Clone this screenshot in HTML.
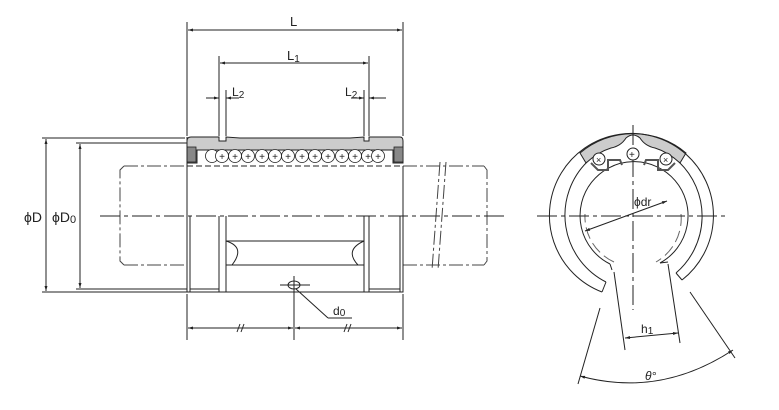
<!DOCTYPE html>
<html><head><meta charset="utf-8"><style>
html,body{margin:0;padding:0;background:#fff;width:779px;height:410px;overflow:hidden}
svg{display:block}
text{font-family:"Liberation Sans",sans-serif;fill:#222}
</style></head><body>
<svg width="779" height="410" viewBox="0 0 779 410" xmlns="http://www.w3.org/2000/svg">
<defs>
<marker id="a" viewBox="0 0 10 10" refX="10" refY="5" markerWidth="6" markerHeight="5" orient="auto-start-reverse"><path d="M0,2 L10,5 L0,8 z" fill="#222"/></marker>
</defs>
<g stroke="#222" stroke-width="1" fill="none">
<line x1="187" y1="22" x2="187" y2="136"/>
<line x1="403" y1="22" x2="403" y2="136"/>
<line x1="219" y1="56" x2="219" y2="136"/>
<line x1="226" y1="90" x2="226" y2="136"/>
<line x1="364" y1="90" x2="364" y2="136"/>
<line x1="369" y1="56" x2="369" y2="136"/>
<line x1="188" y1="30" x2="402" y2="30" marker-start="url(#a)" marker-end="url(#a)"/>
<line x1="220" y1="63" x2="368" y2="63" marker-start="url(#a)" marker-end="url(#a)"/>
<line x1="206" y1="98" x2="219" y2="98" marker-end="url(#a)"/>
<line x1="239" y1="98" x2="226" y2="98" marker-end="url(#a)"/>
<line x1="351" y1="98" x2="364" y2="98" marker-end="url(#a)"/>
<line x1="386" y1="98" x2="369" y2="98" marker-end="url(#a)"/>
<line x1="42" y1="138" x2="185" y2="138"/>
<line x1="42" y1="292" x2="188" y2="292"/>
<line x1="76" y1="143" x2="187" y2="143"/>
<line x1="76" y1="289" x2="187" y2="289"/>
<line x1="46" y1="139" x2="46" y2="291" marker-start="url(#a)" marker-end="url(#a)"/>
<line x1="80" y1="144" x2="80" y2="288" marker-start="url(#a)" marker-end="url(#a)"/>
<g stroke-dasharray="14,3,3,3" stroke="#444">
<line x1="124" y1="166" x2="187" y2="166"/>
<line x1="124" y1="265" x2="187" y2="265"/>
<line x1="403" y1="166" x2="484" y2="166"/>
<line x1="403" y1="265" x2="484" y2="265"/>
<path d="M124,166 L120,170 L120,261 L124,265"/>
<path d="M484,166 L487,170 L487,261 L484,265"/>
<line x1="440" y1="162" x2="432" y2="270"/>
<line x1="446" y1="162" x2="438" y2="270"/>
</g>
<line x1="100" y1="216" x2="505" y2="216" stroke-dasharray="20,4,4,4"/>
<path d="M187,166 L187,292 L403,292 L403,166" />
<line x1="187" y1="166" x2="403" y2="166" stroke-dasharray="6,3"/>
<line x1="190" y1="216" x2="190" y2="292"/>
<line x1="400" y1="216" x2="400" y2="292"/>
<line x1="219" y1="216" x2="219" y2="292"/>
<line x1="226" y1="216" x2="226" y2="292"/>
<line x1="364" y1="216" x2="364" y2="292"/>
<line x1="369" y1="216" x2="369" y2="292"/>
<line x1="190" y1="289" x2="219" y2="289"/>
<line x1="369" y1="289" x2="400" y2="289"/>
<line x1="226" y1="241" x2="364" y2="241"/>
<line x1="226" y1="265" x2="364" y2="265"/>
<path d="M226,241 Q246,247 232,265"/>
<path d="M364,241 Q344,250 358,265"/>
<ellipse cx="294" cy="285" rx="6" ry="4"/>
<line x1="280" y1="285" x2="310" y2="285"/>
<line x1="294" y1="276" x2="294" y2="340"/>
<line x1="296" y1="289" x2="328" y2="318"/>
<line x1="328" y1="318" x2="352" y2="318"/>
<line x1="187" y1="294" x2="187" y2="340"/>
<line x1="403" y1="294" x2="403" y2="340"/>
<line x1="188" y1="328" x2="293" y2="328" marker-start="url(#a)" marker-end="url(#a)"/>
<line x1="295" y1="328" x2="402" y2="328" marker-start="url(#a)" marker-end="url(#a)"/>
<line x1="237" y1="332" x2="240" y2="324"/><line x1="241" y1="332" x2="244" y2="324"/>
<line x1="344" y1="332" x2="347" y2="324"/><line x1="348" y1="332" x2="351" y2="324"/>
</g>
<path d="M187,141 Q187,137 191,137 L219,137 L219,141 L226,141 L226,137 L240,138 L350,138 L364,137 L364,141 L369,141 L369,137 L400,137 Q403,137 403,141 L403,163 L393,163 L393,150 L197,150 L197,163 L187,163 Z" fill="#ccc" stroke="#222" stroke-width="1"/>
<rect x="187" y="147" width="9" height="15" fill="#888" stroke="#222" stroke-width="0.8"/>
<rect x="394" y="147" width="9" height="15" fill="#888" stroke="#222" stroke-width="0.8"/>
<g stroke="#222" stroke-width="0.8" fill="#fff">
<circle cx="212" cy="156" r="6.5"/><circle cx="222" cy="156" r="6.5"/><circle cx="235" cy="156" r="6.5"/><circle cx="248" cy="156" r="6.5"/><circle cx="262" cy="156" r="6.5"/><circle cx="275" cy="156" r="6.5"/><circle cx="288" cy="156" r="6.5"/><circle cx="302" cy="156" r="6.5"/><circle cx="315" cy="156" r="6.5"/><circle cx="328" cy="156" r="6.5"/><circle cx="342" cy="156" r="6.5"/><circle cx="355" cy="156" r="6.5"/><circle cx="368" cy="156" r="6.5"/><circle cx="378" cy="156" r="6.5"/>
</g>
<g font-size="10" text-anchor="middle" fill="#222" style="font-family:'Liberation Sans',sans-serif">
<text x="222" y="160">+</text><text x="235" y="160">+</text><text x="248" y="160">+</text><text x="262" y="160">+</text><text x="275" y="160">+</text><text x="288" y="160">+</text><text x="302" y="160">+</text><text x="315" y="160">+</text><text x="328" y="160">+</text><text x="342" y="160">+</text><text x="355" y="160">+</text><text x="368" y="160">+</text><text x="378" y="160">+</text>
</g>
<line x1="187" y1="137" x2="187" y2="292" stroke="#222"/>
<text x="290" y="26" font-size="13">L</text>
<text x="287" y="60" font-size="13">L<tspan font-size="10" dy="2">1</tspan></text>
<text x="232" y="96" font-size="12">L<tspan font-size="10" dy="2">2</tspan></text>
<text x="345" y="96" font-size="12">L<tspan font-size="10" dy="2">2</tspan></text>
<text x="24" y="222" font-size="14">ϕD</text>
<text x="52" y="222" font-size="14">ϕD<tspan font-size="11" dy="1">0</tspan></text>
<text x="333" y="315" font-size="12">d<tspan font-size="10" dy="1">0</tspan></text>
<!-- right view -->
<path d="M580,153 A82,82 0 0 1 686,153 L680,163 Q668,152 655,148 Q645,146 640,138 Q633,132 626,138 Q621,146 611,148 Q598,152 586,163 Z" fill="#ccc" stroke="#222" stroke-width="1"/>
<g stroke="#222" stroke-width="1" fill="none">
<path d="M602,292 A82,82 0 1 1 682,280"/>
<path d="M606,282 A75,75 0 0 1 587,162"/>
<path d="M679,162 A75,75 0 0 1 676,273"/>
<line x1="602" y1="292" x2="606" y2="282"/>
<line x1="682" y1="280" x2="676" y2="273"/>
<path d="M610,264 A54,54 0 1 1 660,263"/>
<path d="M614,262 A50,50 0 0 1 585,214" stroke="#666" stroke-dasharray="12,5"/>
<path d="M681,214 A50,50 0 0 1 656,262" stroke="#666" stroke-dasharray="12,5"/>
<path d="M610,264 L612,270 M660,263 L668,262" />
<line x1="537" y1="216" x2="728" y2="216" stroke-dasharray="20,4,4,4"/>
<line x1="633" y1="125" x2="633" y2="310" stroke-dasharray="20,4,4,4"/>
<line x1="667" y1="201" x2="585" y2="231" marker-start="url(#a)" marker-end="url(#a)"/>
<line x1="614" y1="272" x2="625" y2="350"/>
<line x1="668" y1="264" x2="680" y2="343"/>
<line x1="625" y1="338" x2="678" y2="333" marker-start="url(#a)" marker-end="url(#a)"/>
<line x1="600" y1="308" x2="578" y2="384"/>
<line x1="690" y1="292" x2="735" y2="358"/>
<path d="M580,376 Q660,398 733,350" marker-start="url(#a)" marker-end="url(#a)"/>
</g>
<path d="M591,163 L598,170 L608,170 L608,160 L620,160 L622,165 M644,165 L646,160 L658,160 L658,170 L668,170 L675,163" fill="none" stroke="#555" stroke-width="2"/>
<circle cx="599" cy="159" r="6" fill="#fff" stroke="#222"/>
<circle cx="633" cy="154" r="6" fill="#fff" stroke="#222"/>
<circle cx="666" cy="159" r="6" fill="#fff" stroke="#222"/>
<text x="629" y="158" font-size="10">+</text>
<text x="596" y="163" font-size="9">×</text>
<text x="663" y="163" font-size="9">×</text>
<text x="634" y="206" font-size="12">ϕdr</text>
<text x="641" y="333" font-size="12">h<tspan font-size="10" dy="1">1</tspan></text>
<text x="645" y="380" font-size="12" font-style="italic">θ°</text>
</svg>
</body></html>
